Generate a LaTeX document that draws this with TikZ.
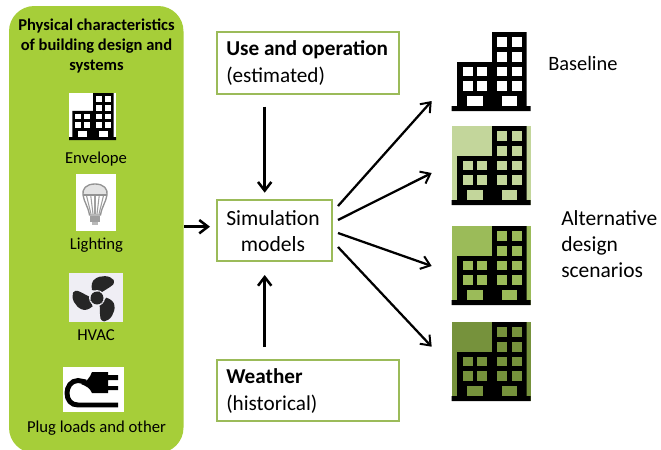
\documentclass[tikz,border=0pt]{standalone}
\usepackage{fontspec}
\setmainfont{Carlito}
\usetikzlibrary{arrows.meta}
\definecolor{panel}{HTML}{A6CE39}
\definecolor{boxline}{HTML}{9BBB59}
\definecolor{altA}{HTML}{C3D69B}
\definecolor{altB}{HTML}{9BBB59}
\definecolor{altC}{HTML}{76923C}
\definecolor{fanbg}{HTML}{EFEEF4}
\newcommand{\bldg}[5]{%
\begin{scope}[shift={(#1,#2)},scale=#3]
\fill[#4] (0,0) rectangle (79,79);
\fill[black] (0,79) -- (0,74) -- (5.5,74) -- (5.5,30) -- (40.5,30) -- (40.5,0) -- (75,0) -- (75,74) -- (79,74) -- (79,79) -- cycle;
\foreach \cx in {45,60}{\foreach \cy in {5.3,20,34.7,49.3}{\fill[#5] (\cx,\cy) rectangle ++(10,9.7);}}
\foreach \cx in {10.8,25.5}{\foreach \cy in {34.7,49.3}{\fill[#5] (\cx,\cy) rectangle ++(10,9.7);}}
\fill[#5] (15.5,63.7) rectangle ++(15.3,10);
\fill[#5] (50,63.7) rectangle ++(15,10);
\end{scope}}
\tikzset{
 txt/.style={inner sep=0pt,text=black,align=center},
 small/.style={font=\fontsize{12.5pt}{15pt}\selectfont},
 big/.style={font=\fontsize{15.9pt}{20pt}\selectfont},
 box/.style={draw=boxline,line width=1.9pt,fill=white,inner sep=0pt},
 arr/.style={-{Straight Barb[length=6.5pt,width=10pt,line width=1.5pt]},line width=1.7pt,black},
 arrs/.style={-{Straight Barb[length=6.5pt,width=10pt,line width=1.9pt]},line width=2.2pt,black},
}
\begin{document}
\begin{tikzpicture}[x=0.75pt,y=-0.75pt]
\useasboundingbox (0,0) rectangle (661,450);
\fill[white] (0,0) rectangle (661,450);
\begin{scope}
\clip (0,0) rectangle (661,450);
\fill[panel,rounded corners=19pt] (9,6) rectangle (183.5,453);
\end{scope}
\node[txt,font=\fontsize{12.4pt}{15pt}\selectfont\bfseries] (phys) at (96.5,46) {Physical characteristics\\of building design and\\systems};
% envelope
\bldg{69}{93}{0.595}{white}{white}
\node[txt,small] (env) at (96,159) {Envelope};
% bulb
\fill[white] (76,174) rectangle (116,231);
\begin{scope}[shift={(95,0)}]
\fill[gray!22] (-12,195) .. controls (-13,188) and (-8,184) .. (0,184) .. controls (8,184) and (13,188) .. (12,195) -- cycle;
\draw[gray!85,line width=1pt] (0,184) .. controls (-9,184) and (-13,189) .. (-12,195) .. controls (-11,202) and (-7,206) .. (-5.5,215) -- (5.5,215) .. controls (7,206) and (11,202) .. (12,195) .. controls (13,189) and (9,184) .. (0,184) -- cycle;
\draw[gray!85,line width=0.8pt] (-12,195) -- (12,195);
\foreach \dx in {-8,-4,0,4,8}{\draw[gray!75,line width=0.8pt] (\dx*1.05,196) -- (\dx*0.5,214);}
\fill[gray!75] (-5,216) rectangle (5,222);
\fill[gray!55] (-3,222) rectangle (3,225);
\end{scope}
\node[txt,small] (light) at (96.5,245) {Lighting};
% fan
\fill[fanbg] (69,273) rectangle (123,322);
\begin{scope}[shift={(97,298)}]
\foreach \a in {0,120,240}{
\fill[black!85,rotate=\a] (-5,-8) .. controls (-6,-13) and (-5,-17) .. (-2,-19) .. controls (3,-23) and (13,-23) .. (16.7,-18) .. controls (18,-14) and (15,-12) .. (13,-11) .. controls (10,-9) and (8,-8) .. (5,-6) -- cycle;}
\fill[black!85] (0,0) circle (6.5);
\draw[fanbg,line width=0.6pt] (0,0) circle (7.5);
\end{scope}
\node[txt,small] (hvac) at (96,335) {HVAC};
% plug
\fill[white] (63,367) rectangle (124,412);
\fill[black] (92,372) -- (108,372) -- (108,375) -- (118,375) -- (118,380) -- (108,380) -- (108,386) -- (118,386) -- (118,390) -- (108,390) -- (108,393) -- (92,393) .. controls (90,388) and (86,386) .. (81,384) .. controls (86,382) and (90,378) .. (92,372) -- cycle;
\draw[black,line width=3.7pt] (86,382) -- (78,380.5) .. controls (71,380.5) and (67,387) .. (67,393) .. controls (67,400) and (71,405) .. (78,405) -- (118,405);
\node[txt,small] (plug) at (96.5,428) {Plug loads and other};
% boxes
\node[box,minimum width=136.5pt,minimum height=46.7pt] (use) at (308,63) {};
\node[txt,anchor=west,align=left,big] (uset) at (226,63) {\textbf{Use and operation}\\(estimated)};
\node[box,minimum width=86.3pt,minimum height=45.5pt] (sim) at (274.5,230.5) {};
\node[txt,big,font=\fontsize{16.2pt}{20pt}\selectfont] (simt) at (273,231) {Simulation\\models};
\node[box,minimum width=136.5pt,minimum height=45.7pt] (wea) at (308,390.5) {};
\node[txt,anchor=west,align=left,big] (weat) at (226,391) {\textbf{Weather}\\(historical)};
% buildings
\bldg{451.7}{32}{1}{white}{white}
\bldg{451.7}{126}{1}{altA}{altA}
\bldg{451.7}{226}{1}{altB}{altB}
\bldg{451.7}{322}{1}{altC}{altC}
\node[txt,anchor=west,font=\fontsize{15.3pt}{19pt}\selectfont] (base) at (548,63.5) {Baseline};
\node[txt,anchor=west,align=left,font=\fontsize{16.1pt}{19.5pt}\selectfont] (alt) at (561,244) {Alternative\\design\\scenarios};
% arrows
\coordinate (pr) at (184,226.7);
\coordinate (pe) at (210,226.7);
\coordinate (ut) at (264.7,106.7);
\coordinate (ue) at (264.7,192.7);
\coordinate (wb) at (264.7,347);
\coordinate (we) at (264.7,275);
\coordinate (s1) at (338,206);
\coordinate (s2) at (338,220);
\coordinate (s3) at (338,233);
\coordinate (s4) at (338,247);
\coordinate (b1) at (431.7,101);
\coordinate (b2) at (431.7,173);
\coordinate (b3) at (431.7,266);
\coordinate (b4) at (431.7,346.7);
\draw[arrs] (pr) -- (pe);
\draw[arrs] (ut) -- (ue);
\draw[arrs] (wb) -- (we);
\draw[arr] (s1) -- (b1);
\draw[arr] (s2) -- (b2);
\draw[arr] (s3) -- (b3);
\draw[arr] (s4) -- (b4);
\end{tikzpicture}
\end{document}
